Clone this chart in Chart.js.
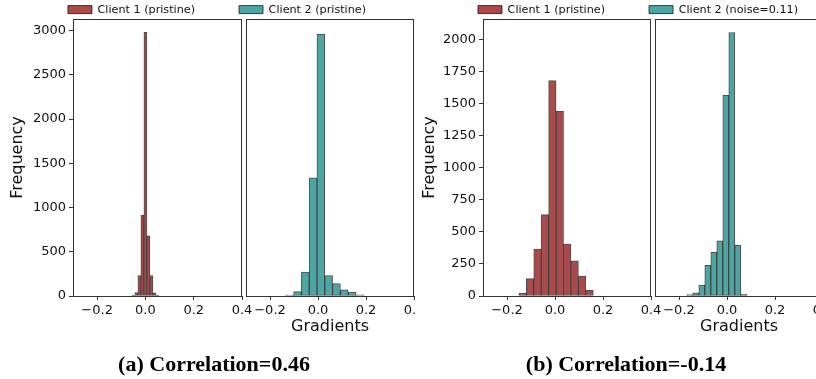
<!DOCTYPE html>
<html>
<head>
<meta charset="utf-8">
<script src="https://cdn.jsdelivr.net/npm/chart.js@4.4.1/dist/chart.umd.min.js"></script>
<style>
  html, body { margin: 0; padding: 0; background: #fff; }
  body { width: 816px; height: 379px; position: relative; overflow: hidden; }
  .fig { position: absolute; top: 0; height: 379px; overflow: hidden; }
  .box { position: absolute; top: -40px; left: 0; height: 419px; }
  .caption {
    position: absolute; top: 351px; line-height: 22px;
    font: bold 22px 'Liberation Serif', serif; color: #000;
    white-space: nowrap; transform: translateX(-50%);
  }
</style>
</head>
<body>
<div class="fig" style="left:0; width:415px;">
  <div class="box" style="width:434px;"><canvas id="chartA"></canvas></div>
</div>
<div class="fig" style="left:415px; width:401px;">
  <div class="box" style="width:446px;"><canvas id="chartB"></canvas></div>
</div>
<div class="caption" style="left:214px;">(a) Correlation=0.46</div>
<div class="caption" style="left:626px;">(b) Correlation=-0.14</div>

<script>
// ---- data (bin centre -> count) ----

// (a) both clients pristine
const labelsA = ['Client 1 (pristine)', 'Client 2 (pristine)'];
const binsA1 = [-0.05, -0.0375, -0.025, -0.0125, 0.0, 0.0125, 0.025, 0.0375, 0.05];
const countsA1 = [8, 40, 230, 915, 2980, 680, 230, 35, 8];
const binsA2 = [-0.118, -0.0855, -0.053, -0.0205, 0.012, 0.0445, 0.077, 0.1095, 0.142, 0.1745];
const countsA2 = [10, 50, 270, 1335, 2960, 230, 140, 70, 45, 12];

// (b) client 2 with noise
const labelsB = ['Client 1 (pristine)', 'Client 2 (noise=0.11)'];
const binsB1 = [-0.135, -0.104, -0.073, -0.042, -0.011, 0.02, 0.051, 0.082, 0.113, 0.144];
const countsB1 = [20, 135, 365, 635, 1680, 1440, 405, 275, 155, 45];
const binsB2 = [-0.155, -0.13, -0.105, -0.08, -0.055, -0.03, -0.005, 0.02, 0.045, 0.07];
const countsB2 = [12, 25, 85, 240, 340, 430, 1565, 2055, 395, 15];

// ticks
const xTicks = [-0.2, 0.0, 0.2, 0.4];
const yTicksA = [0, 500, 1000, 1500, 2000, 2500, 3000];
const yTicksB = [0, 250, 500, 750, 1000, 1250, 1500, 1750, 2000];

const RED = '#aa4a4a';
const TEAL = '#4ca6a4';
const EDGE = 'rgba(0, 0, 0, 0.7)';
const INK = '#111';
const SPINE = '#333';

Chart.defaults.font.family = "'DejaVu Sans', sans-serif";
Chart.defaults.color = INK;

// box around each subplot
const panelFrame = {
    id: 'panelFrame',
    afterDatasetsDraw(chart) {
        const {ctx, chartArea} = chart;
        ctx.save();
        ctx.strokeStyle = SPINE;
        ctx.lineWidth = 1;
        ['x1', 'x2'].forEach(function (id) {
            const s = chart.scales[id];
            ctx.strokeRect(Math.round(s.left) + 0.5, Math.round(chartArea.top) + 0.5,
                Math.round(s.right - s.left) - 1, Math.round(chartArea.bottom - chartArea.top));
        });
        ctx.restore();
    }
};

function fmtX(v) {
    const r = Math.round(v * 10) / 10;
    return (r < 0 ? '\u2212' : '') + Math.abs(r).toFixed(1);
}

function xAxis(weight, withTitle) {
    return {
        type: 'linear',
        position: 'bottom',
        stack: 'panels',
        stackWeight: weight,
        min: -0.3,
        max: 0.4,
        offset: false,
        afterFit: s => { s.height = 83; },
        afterBuildTicks: s => { s.ticks = xTicks.map(v => ({value: v})); },
        ticks: { font: {size: 13}, color: INK, padding: 3, maxRotation: 0, autoSkip: false, callback: v => fmtX(v) },
        grid: { offset: false, drawOnChartArea: false, tickLength: 4, color: SPINE },
        border: { display: false },
        title: {
            display: withTitle,
            text: 'Gradients',
            color: INK,
            font: {size: 16},
            padding: {top: 0, bottom: 43}
        }
    };
}

function histFigure(canvasId, cfg) {
    const canvas = document.getElementById(canvasId);
    if (!canvas) return;

    new Chart(canvas.getContext('2d'), {
        type: 'bar',
        data: {
            datasets: [
                {
                    label: cfg.labels[0],
                    data: cfg.bins1.map((b, i) => ({x: b, y: cfg.counts1[i]})),
                    xAxisID: 'x1',
                    yAxisID: 'y',
                    backgroundColor: RED,
                    borderColor: EDGE,
                    borderWidth: 1,
                    borderSkipped: false,
                    barPercentage: 1,
                    categoryPercentage: 1,
                    grouped: false
                },
                {
                    label: cfg.labels[1],
                    data: cfg.bins2.map((b, i) => ({x: b, y: cfg.counts2[i]})),
                    xAxisID: 'x2',
                    yAxisID: 'y',
                    backgroundColor: TEAL,
                    borderColor: EDGE,
                    borderWidth: 1,
                    borderSkipped: false,
                    barPercentage: 1,
                    categoryPercentage: 1,
                    grouped: false
                }
            ]
        },
        options: {
            responsive: true,
            maintainAspectRatio: false,
            animation: false,
            layout: { padding: 0 },
            plugins: {
                legend: {
                    position: 'top',
                    maxHeight: 59,
                    labels: {
                        boxWidth: 24,
                        boxHeight: 8,
                        padding: 44,
                        color: INK,
                        font: {size: 11.2}
                    }
                },
                tooltip: { enabled: false }
            },
            scales: {
                x1: xAxis(cfg.w1, false),
                gap: {
                    type: 'linear', position: 'bottom', stack: 'panels', stackWeight: cfg.gap,
                    min: 0, max: 1,
                    afterFit: s => { s.height = 83; },
                    ticks: {display: false}, grid: {display: false}, border: {display: false}
                },
                x2: xAxis(cfg.w2, true),
                y: {
                    type: 'linear',
                    position: 'left',
                    min: 0,
                    max: cfg.yMax,
                    afterFit: s => { s.width = cfg.yWidth; },
                    afterBuildTicks: s => { s.ticks = cfg.yTicks.map(v => ({value: v})); },
                    ticks: { font: {size: 13}, color: INK, padding: 3, callback: v => String(v) },
                    grid: { drawOnChartArea: false, tickLength: 4, color: SPINE },
                    border: { display: false },
                    title: {
                        display: true,
                        text: 'Frequency',
                        color: INK,
                        font: {size: 16},
                        padding: {top: cfg.titlePad, bottom: 0}
                    }
                },
                padRight: {
                    type: 'linear', position: 'right', min: 0, max: 1,
                    afterFit: s => { s.width = cfg.rightPad; },
                    ticks: {display: false}, grid: {display: false}, border: {display: false}
                }
            }
        },
        plugins: [panelFrame]
    });
}

histFigure('chartA', {
    labels: labelsA,
    bins1: binsA1, counts1: countsA1,
    bins2: binsA2, counts2: countsA2,
    yTicks: yTicksA, yMax: 3130,
    yWidth: 73, titlePad: 8.4, rightPad: 20,
    w1: 169, gap: 4, w2: 168
});

histFigure('chartB', {
    labels: labelsB,
    bins1: binsB1, counts1: countsB1,
    bins2: binsB2, counts2: countsB2,
    yTicks: yTicksB, yMax: 2160,
    yWidth: 68, titlePad: 5.4, rightPad: 38,
    w1: 168, gap: 4, w2: 168
});
</script>
</body>
</html>
